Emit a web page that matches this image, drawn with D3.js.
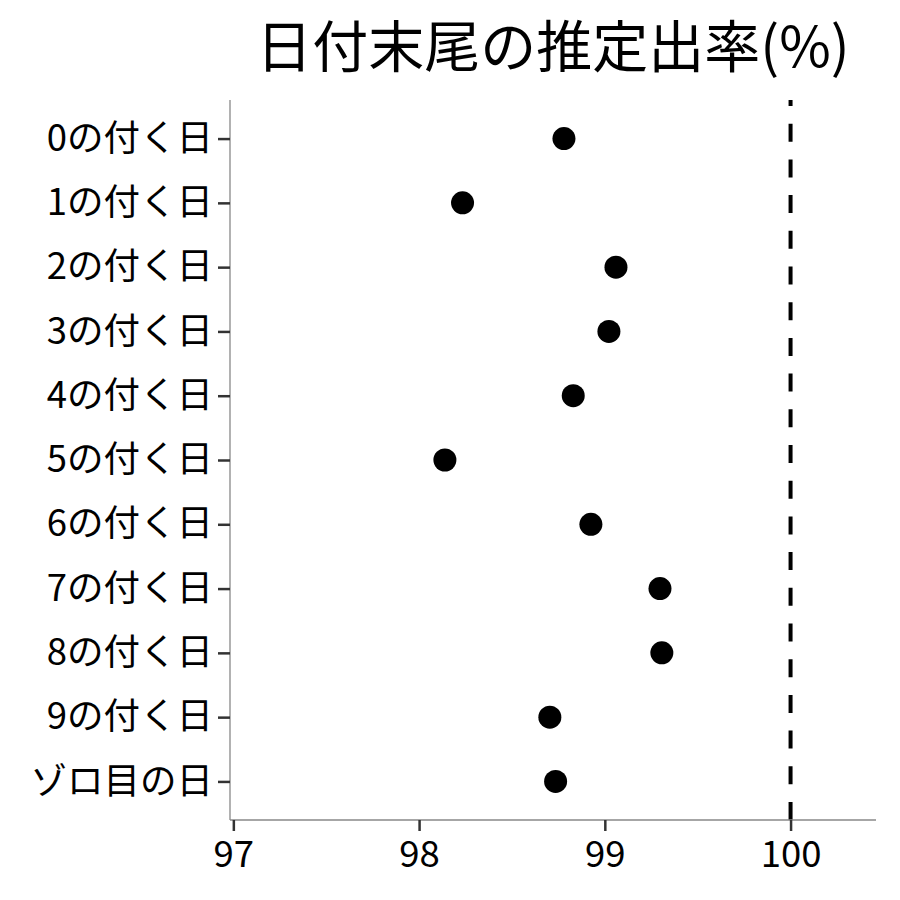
<!DOCTYPE html>
<html><head><meta charset="utf-8">
<script src="https://cdn.jsdelivr.net/npm/d3@7"></script>
<style>body{margin:0;background:#fff}svg{display:block}</style>
</head><body>
<script>
const title = "日付末尾の推定出率(%)";
const categories = ["0の付く日","1の付く日","2の付く日","3の付く日","4の付く日","5の付く日","6の付く日","7の付く日","8の付く日","9の付く日","ゾロ目の日"];
const values = [98.78, 98.234, 99.06, 99.022, 98.83, 98.139, 98.925, 99.297, 99.307, 98.704, 98.735];
const xTicks = [97, 98, 99, 100];
const refLine = 100;

(function () {
const W = 900, H = 900;
const pL = 230, pR = 876, pT = 100, pB = 820;
const font = "'Noto Sans CJK JP','Noto Sans',sans-serif";

const svg = d3.select("body").append("svg").attr("width", W).attr("height", H);

const x = d3.scaleLinear().domain([96.982, 100.46]).range([pL, pR]);
const y = d3.scalePoint().domain(categories).range([pT, pB]).padding(0.6);

// reference dashed line
svg.append("line")
  .attr("x1", x(refLine)).attr("x2", x(refLine))
  .attr("y1", pB).attr("y2", pT)
  .attr("stroke", "#000").attr("stroke-width", 4)
  .attr("stroke-dasharray", "18,17.7");

// points
svg.append("g").selectAll("circle").data(values).join("circle")
  .attr("cx", d => x(d)).attr("cy", (d, i) => y(categories[i]))
  .attr("r", 11.5).attr("fill", "#000");

// x axis
const gx = svg.append("g").attr("transform", `translate(0,${pB})`)
  .call(d3.axisBottom(x).tickValues(xTicks).tickSize(11).tickPadding(10).tickFormat(d3.format("d")));
gx.select(".domain").attr("stroke", "#888").attr("stroke-width", 1.3).attr("d", `M${pL},0H${pR}`);
gx.selectAll(".tick line").attr("stroke", "#333").attr("stroke-width", 2.5);
gx.selectAll(".tick text").attr("font-family", font).attr("font-size", 36.5).attr("fill", "#000");

// y axis
const gy = svg.append("g").attr("transform", `translate(${pL},0)`)
  .call(d3.axisLeft(y).tickSize(12).tickPadding(5));
gy.select(".domain").attr("stroke", "#888").attr("stroke-width", 1.3).attr("d", `M0,${pT}V${pB}`);
gy.selectAll(".tick line").attr("stroke", "#333").attr("stroke-width", 2.5);
gy.selectAll(".tick text").attr("font-family", font).attr("font-size", 36.5).attr("fill", "#000");

// title
svg.append("text").attr("x", (pL + pR) / 2).attr("y", 67)
  .attr("text-anchor", "middle").attr("font-family", font).attr("font-size", 56)
  .attr("fill", "#000").text(title);
})();
</script>
</body></html>
